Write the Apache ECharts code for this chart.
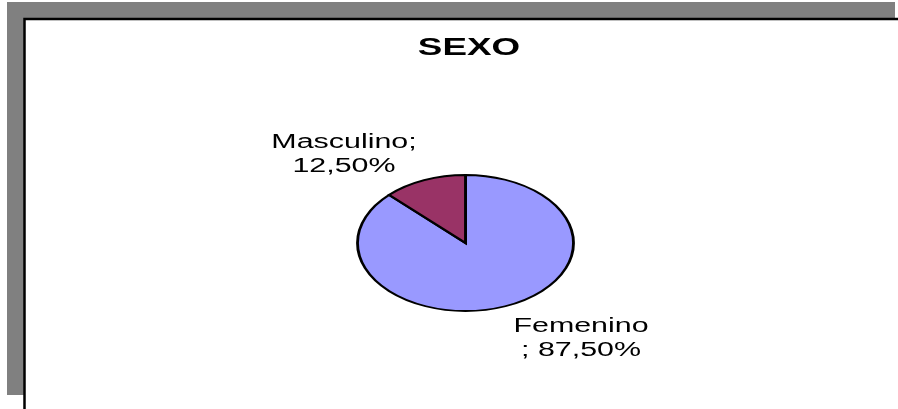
<!DOCTYPE html>
<html>
<head>
<meta charset="utf-8">
<style>
  html, body { margin: 0; padding: 0; background: #fff; }
  #chart { width: 898px; height: 409px; }
</style>
<script src="https://cdn.jsdelivr.net/npm/echarts@6/dist/echarts.min.js"></script>
</head>
<body>
<div id="chart"></div>
<script>
// ---- data ----
const titleText = 'SEXO';
const categories = ['Femenino', 'Masculino'];
const values = [87.5, 12.5];
const colors = ['#9999FF', '#993366'];

// ---- layout (not data) ----
const CX = 465.5, CY = 243, RY = 68, RX = 108;
const STRETCH = RX / RY;           // pie drawn horizontally stretched
const TEXT_SCALE = 1.52;
const labelPos = [[581, 338], [344, 154]];
const labelBreakBeforeSep = [true, false]; // "Femenino\n; 87,50%" vs "Masculino;\n12,50%"

const total = values.reduce((a, b) => a + b, 0);
function pctText(v) {
  return (v / total * 100).toFixed(2).replace('.', ',') + '%';
}
function labelText(i) {
  return labelBreakBeforeSep[i]
    ? categories[i] + '\n; ' + pctText(values[i])
    : categories[i] + ';\n' + pctText(values[i]);
}

const chart = echarts.init(document.getElementById('chart'), null, { renderer: 'canvas' });

chart.setOption({
  backgroundColor: '#ffffff',
  animation: false,
  graphic: [
    { type: 'rect', z: 0, shape: { x: 7, y: 2, width: 888, height: 393 }, style: { fill: '#808080' } },
    { type: 'rect', z: 1, shape: { x: 24.5, y: 19, width: 900, height: 420 }, style: { fill: '#ffffff', stroke: '#000000', lineWidth: 2.5 } },
    { type: 'text', z: 2, x: 469, y: 49, scaleX: 1.6,
      style: { text: titleText, fill: '#000', font: 'bold 23px "Liberation Sans", Arial, sans-serif', align: 'center', verticalAlign: 'middle' } }
  ],
  series: [{
    type: 'custom',
    coordinateSystem: 'none',
    z: 5,
    data: values.map((v, i) => [v, i]),
    renderItem: function (params, api) {
      const i = params.dataIndex;
      let before = 0;
      for (let j = 0; j < i; j++) before += values[j];
      const v = api.value(0);
      const start = -Math.PI / 2 + 2 * Math.PI * before / total;
      const end = start + 2 * Math.PI * v / total;
      return {
        type: 'group',
        children: [
          {
            type: 'sector',
            x: CX, y: CY, scaleX: STRETCH,
            shape: { cx: 0, cy: 0, r: RY, r0: 0, startAngle: start, endAngle: end, clockwise: true },
            style: { fill: colors[i], stroke: '#000000', lineWidth: 1.8, strokeNoScale: true }
          },
          {
            type: 'text',
            x: labelPos[i][0], y: labelPos[i][1], scaleX: TEXT_SCALE,
            style: {
              text: labelText(i), fill: '#000',
              font: '20px "Liberation Sans", Arial, sans-serif',
              align: 'center', verticalAlign: 'middle', lineHeight: 24
            }
          }
        ]
      };
    }
  }]
});
</script>
</body>
</html>
